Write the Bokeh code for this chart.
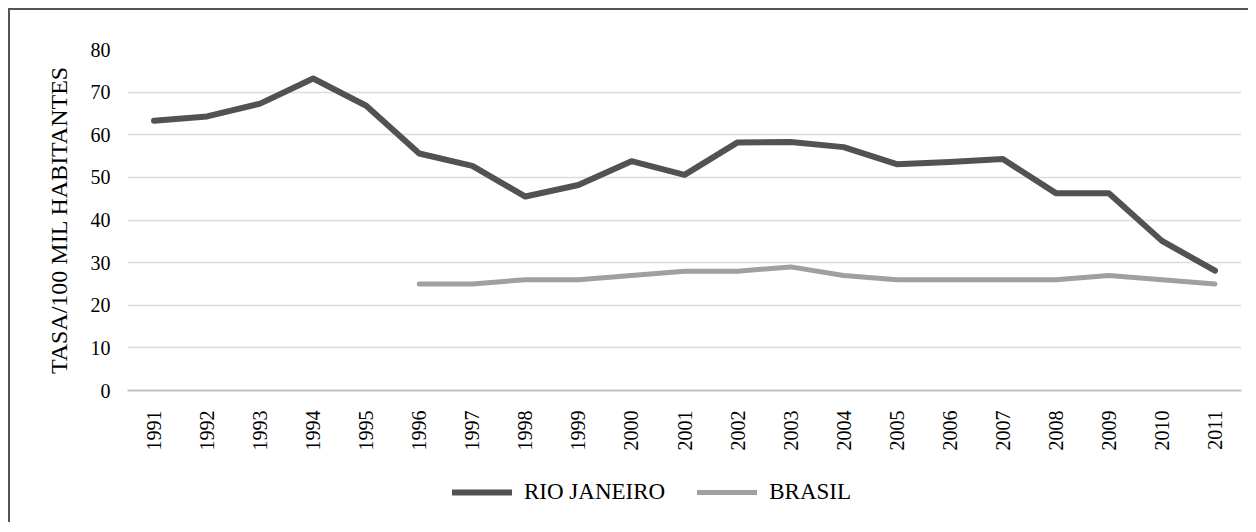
from bokeh.plotting import figure
from bokeh.layouts import column
from bokeh.models import Legend, LegendItem, ColumnDataSource, FixedTicker
from bokeh.embed import file_html
from bokeh.resources import INLINE
import math

years = [str(y) for y in range(1991, 2012)]
rio = [63.3, 64.3, 67.3, 73.2, 66.8, 55.6, 52.7, 45.5, 48.2, 53.8, 50.6,
       58.2, 58.3, 57.1, 53.1, 53.6, 54.3, 46.3, 46.3, 35.1, 28.1]
brasil_years = [str(y) for y in range(1996, 2012)]
brasil = [25, 25, 26, 26, 27, 28, 28, 29, 27, 26, 26, 26, 26, 27, 26, 25]
y_ticks = [0, 10, 20, 30, 40, 50, 60, 70, 80]
series_names = ["RIO JANEIRO", "BRASIL"]
y_title = "TASA/100 MIL HABITANTES"

FONT = "Liberation Serif"
RIO_COLOR = "#525252"
BR_COLOR = "#a0a0a0"

p = figure(x_range=years, y_range=(0, 80), width=1240, height=458,
           output_backend="svg", toolbar_location=None,
           min_border_left=117, min_border_right=9,
           min_border_top=39, min_border_bottom=78)
p.outline_line_color = None
p.background_fill_color = "white"
p.border_fill_color = "white"

src_rio = ColumnDataSource(dict(x=years, y=rio))
src_br = ColumnDataSource(dict(x=brasil_years, y=brasil))
p.line("x", "y", source=src_rio, line_color=RIO_COLOR, line_width=6,
       line_join="round", line_cap="round")
p.line("x", "y", source=src_br, line_color=BR_COLOR, line_width=5,
       line_join="round", line_cap="round")

p.yaxis.ticker = FixedTicker(ticks=y_ticks)
p.yaxis.axis_line_color = None
p.yaxis.major_tick_line_color = None
p.yaxis.minor_tick_line_color = None
p.yaxis.major_label_text_font = FONT
p.yaxis.major_label_text_font_size = "20px"
p.yaxis.major_label_text_color = "black"
p.yaxis.major_label_standoff = 11
p.yaxis.axis_label = y_title
p.yaxis.axis_label_text_font = FONT
p.yaxis.axis_label_text_font_size = "24px"
p.yaxis.axis_label_text_font_style = "normal"
p.yaxis.axis_label_text_color = "black"
p.yaxis.axis_label_standoff = 16

p.xaxis.axis_line_color = "#c0c0c0"
p.xaxis.axis_line_width = 2
p.xaxis.major_tick_line_color = None
p.xaxis.minor_tick_line_color = None
p.xaxis.major_label_orientation = math.pi / 2
p.xaxis.major_label_text_font = FONT
p.xaxis.major_label_text_font_size = "20px"
p.xaxis.major_label_text_color = "black"
p.xaxis.major_label_standoff = 14

p.xgrid.grid_line_color = None
p.ygrid.grid_line_color = "#dcdcdc"
p.ygrid.grid_line_width = 1.5

# legend strip below the chart (series renderers hidden, only legend shown)
lf = figure(width=1240, height=56, output_backend="svg", toolbar_location=None,
            x_axis_location=None, y_axis_location=None,
            min_border=0, x_range=years, y_range=(0, 80))
lf.title.visible = False
lf.outline_line_color = None
lf.xgrid.visible = False
lf.ygrid.visible = False
lf.border_fill_color = "white"
lf.background_fill_color = "white"
l1 = lf.line("x", "y", source=ColumnDataSource(dict(x=years, y=rio)),
             line_color=RIO_COLOR, line_width=6, line_cap="round", visible=False)
l2 = lf.line("x", "y", source=ColumnDataSource(dict(x=brasil_years, y=brasil)),
             line_color=BR_COLOR, line_width=5, line_cap="round", visible=False)

legend = Legend(items=[LegendItem(label=series_names[0], renderers=[l1]),
                       LegendItem(label=series_names[1], renderers=[l2])],
                orientation="horizontal", location=(325, 19))
legend.border_line_color = None
legend.background_fill_alpha = 0
legend.inactive_fill_alpha = 0
legend.label_text_font = FONT
legend.label_text_font_size = "23px"
legend.label_text_color = "black"
legend.glyph_width = 60
legend.glyph_height = 20
legend.label_standoff = 12
legend.spacing = 32
legend.padding = 10
legend.margin = 0
lf.add_layout(legend, "center")

layout = column(p, lf, spacing=0)
layout.styles = {"margin-left": "10px", "margin-top": "10px",
                 "box-shadow": "-2px -2px 0 0 #555555"}

open("out.html", "w").write(file_html(layout, INLINE))
